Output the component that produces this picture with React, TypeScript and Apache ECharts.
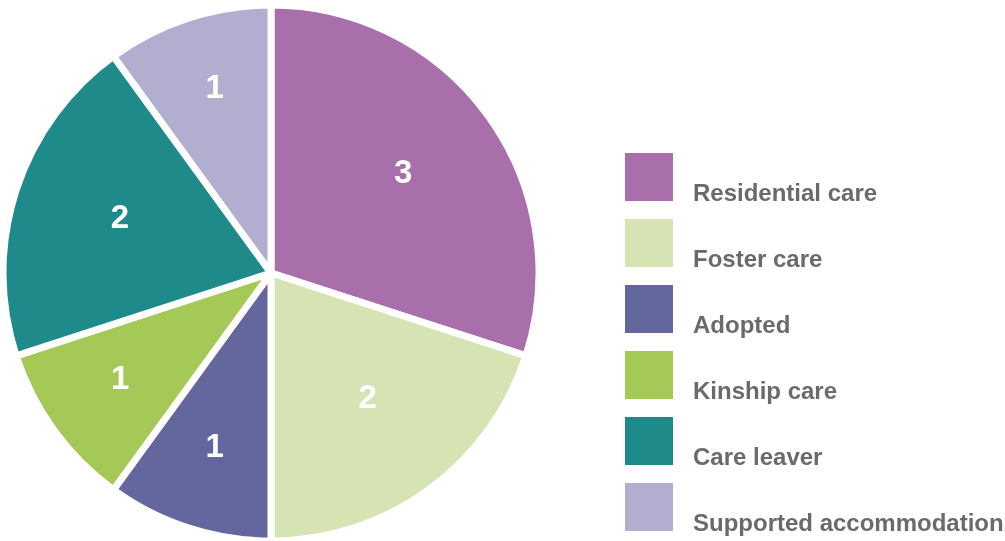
import React, { useEffect, useRef } from "react";
import * as echarts from "echarts";

const categories = [
  "Residential care",
  "Foster care",
  "Adopted",
  "Kinship care",
  "Care leaver",
  "Supported accommodation",
];
const values = [3, 2, 1, 1, 2, 1];
const colors = ["#a96fab", "#d6e4b4", "#64679e", "#a5c957", "#1e8a8a", "#b2aecf"];

const CX = 271;
const CY = 273;

export default function App() {
  const ref = useRef<HTMLDivElement>(null);
  useEffect(() => {
    if (!ref.current) return;
    const chart = echarts.init(ref.current, undefined, { renderer: "svg" });
    chart.setOption({
      animation: false,
      legend: {
        orient: "vertical",
        left: 625,
        top: 153,
        height: 400,
        padding: 0,
        icon: "rect",
        itemWidth: 48,
        itemHeight: 48,
        itemGap: 15,
        selectedMode: false,
        itemStyle: { borderWidth: 0 },
        data: categories,
        formatter: (name: string) => `{s|}\n{t|${name}}`,
        textStyle: {
          color: "#6a6a6a",
          fontFamily: "Liberation Sans, Arial, sans-serif",
          fontWeight: "bold",
          fontSize: 24,
          rich: {
            s: { lineHeight: 30, fontSize: 24, padding: [0, 0, 0, 15] },
            t: {
              lineHeight: 24,
              fontSize: 24,
              fontWeight: "bold",
              color: "#6a6a6a",
              fontFamily: "Liberation Sans, Arial, sans-serif",
              padding: [0, 0, 0, 15],
            },
          },
        },
      },
      series: [
        {
          type: "pie",
          center: [CX, CY],
          radius: [0, 268],
          startAngle: 90,
          clockwise: true,
          silent: true,
          avoidLabelOverlap: false,
          itemStyle: { borderColor: "#ffffff", borderWidth: 7 },
          label: {
            show: true,
            position: "inside",
            formatter: "{c}",
            color: "#ffffff",
            fontFamily: "Liberation Sans, Arial, sans-serif",
            fontWeight: "bold",
            fontSize: 33,
          },
          labelLine: { show: false },
          labelLayout: (p: any) => {
            const r = p.labelRect;
            const lx = r.x + r.width / 2;
            const ly = r.y + r.height / 2;
            const ang = Math.atan2(ly - CY, lx - CX);
            const R = values[p.dataIndex] === 1 ? 189 : 161;
            return { x: CX + 2 + R * Math.cos(ang), y: CY - 7 + R * Math.sin(ang) };
          },
          data: categories.map((name, i) => ({
            name,
            value: values[i],
            itemStyle: { color: colors[i] },
          })),
        },
      ],
    });
    return () => chart.dispose();
  }, []);
  return (
    <div
      ref={ref}
      style={{ position: "fixed", left: 0, top: 0, width: 1005, height: 541 }}
    />
  );
}
